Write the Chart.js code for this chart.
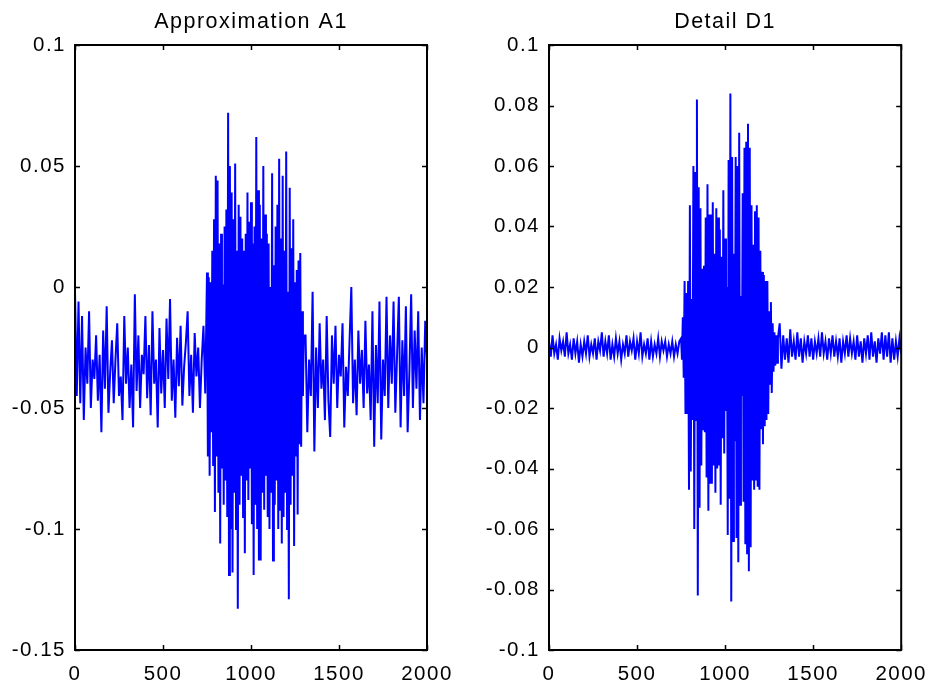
<!DOCTYPE html>
<html>
<head>
<meta charset="utf-8">
<script src="https://cdn.jsdelivr.net/npm/chart.js@4.4.1/dist/chart.umd.min.js"></script>
<style>
  html, body { margin: 0; padding: 0; background: #fff; }
  #wrap { position: relative; width: 936px; height: 686px; }
  canvas { position: absolute; top: 0; }
  #chart-a1 { left: 0; }
  #chart-d1 { left: 468px; }
</style>
</head>
<body>
<div id="wrap">
  <canvas id="chart-a1" width="468" height="686"></canvas>
  <canvas id="chart-d1" width="468" height="686"></canvas>
</div>
<script>
// sample positions: quiet parts every 10 samples, burst every 5 samples
const quietStep = 10;
const burstStart = 750;
const burstStep = 5;
const afterStart = 1310;

const xTicks = [0, 500, 1000, 1500, 2000];
const yTicksA1 = [-0.15, -0.1, -0.05, 0, 0.05, 0.1];
const yTicksD1 = [-0.1, -0.08, -0.06, -0.04, -0.02, 0, 0.02, 0.04, 0.06, 0.08, 0.1];

// Approximation A1
const a1Before = [
  -0.002, -0.045, -0.006, -0.048, -0.012, -0.055, -0.025, -0.04, -0.01, -0.05,
  -0.03, -0.038, -0.02, -0.047, -0.028, -0.06, -0.018, -0.042, -0.008, -0.052,
  -0.035, -0.022, -0.048, -0.03, -0.015, -0.045, -0.037, -0.055, -0.012, -0.04,
  -0.025, -0.05, -0.032, -0.058, -0.003, -0.043, -0.02, -0.05, -0.028, -0.036,
  -0.012, -0.046, -0.024, -0.053, -0.01, -0.04, -0.03, -0.058, -0.017, -0.044,
  -0.026, -0.05, -0.013, -0.038, -0.005, -0.047, -0.03, -0.054, -0.021, -0.041,
  -0.016, -0.049, -0.033, -0.023, -0.01, -0.045, -0.028, -0.052, -0.019, -0.037,
  -0.025, -0.05, -0.03, -0.016, -0.044
];
const a1Burst = [
  0.006, -0.07, 0.004, -0.078, 0.002, -0.06, 0.015, -0.074, 0.028, -0.093,
  0.046, -0.07, 0.044, -0.085, 0.018, -0.106, 0.022, -0.075, 0.001, -0.09,
  0.025, -0.08, 0.032, -0.095, 0.072, -0.119, 0.05, -0.1, 0.039, -0.118,
  0.028, -0.085, 0.051, -0.1, 0.015, -0.133, 0.034, -0.09, 0.029, -0.078,
  0.02, -0.095, 0.015, -0.11, 0.022, -0.08, 0.039, -0.088, 0.027, -0.075,
  0.035, -0.098, 0.018, -0.119, 0.025, -0.09, 0.062, -0.1, 0.04, -0.113,
  0.034, -0.113, 0.02, -0.085, 0.05, -0.092, 0.03, -0.078, 0.022, -0.095,
  0.018, -0.1, 0.0, -0.085, 0.047, -0.113, 0.009, -0.09, 0.025, -0.08,
  0.034, -0.1, 0.053, -0.092, 0.02, -0.106, 0.046, -0.095, 0.015, -0.085,
  0.056, -0.1, -0.002, -0.129, 0.041, -0.09, 0.016, -0.078, 0.028, -0.107,
  0.002, -0.07, 0.007, -0.094, 0.011, -0.065, 0.014, -0.066, -0.01, -0.045,
  -0.02
];
const a1After = [
  -0.02, -0.06, -0.03, -0.045, -0.002, -0.068, -0.025, -0.05, -0.015, -0.042,
  -0.03, -0.055, -0.012, -0.047, -0.062, -0.02, -0.04, -0.016, -0.05, -0.028,
  -0.037, -0.015, -0.058, -0.033, -0.045, -0.022, 0.0, -0.048, -0.03, -0.053,
  -0.018, -0.04, -0.026, -0.05, -0.014, -0.044, -0.032, -0.055, -0.01, -0.066,
  -0.024, -0.048, -0.006, -0.063, -0.03, -0.045, -0.004, -0.05, -0.02, -0.04,
  -0.006, -0.052, -0.028, -0.004, -0.058, -0.022, -0.045, -0.008, -0.06, -0.035,
  -0.003, -0.05, -0.018, -0.042, -0.01, -0.055, -0.025, -0.048, -0.014, -0.03
];

// Detail D1
const d1Before = [
  0.002, -0.003, 0.004, -0.002, 0.001, -0.004, 0.003, -0.001, 0.002, -0.003,
  0.005, -0.002, 0.001, -0.004, 0.003, -0.002, 0.002, -0.005, 0.001, -0.003,
  0.002, -0.002, 0.004, -0.003, 0.001, -0.002, 0.003, -0.004, 0.002, -0.001,
  0.005, -0.003, 0.002, -0.002, 0.004, -0.004, 0.001, -0.003, 0.003, -0.002,
  0.002, -0.004, 0.001, -0.002, 0.004, -0.003, 0.002, -0.001, 0.003, -0.004,
  0.002, -0.002, 0.005, -0.003, 0.001, -0.002, 0.003, -0.004, 0.002, -0.003,
  0.001, -0.002, 0.003, -0.003, 0.002, -0.001, 0.002, -0.003, 0.001, -0.002,
  0.002, -0.003, 0.001, -0.002, 0.002
];
const d1Burst = [
  0.003, -0.004, 0.01, -0.01, 0.022, -0.022, 0.018, -0.022, 0.022, -0.047,
  0.047, -0.041, 0.016, -0.024, 0.06, -0.06, 0.058, -0.024, 0.082, -0.082,
  0.053, -0.053, 0.046, -0.039, 0.026, -0.027, 0.027, -0.028, 0.043, -0.043,
  0.054, -0.054, 0.044, -0.045, 0.044, -0.045, 0.048, -0.039, 0.031, -0.048,
  0.046, -0.04, 0.043, -0.039, 0.039, -0.052, 0.03, -0.03, 0.052, -0.035,
  0.036, -0.021, 0.02, -0.062, 0.062, -0.05, 0.084, -0.084, 0.063, -0.064,
  0.031, -0.031, 0.063, -0.063, 0.06, -0.071, 0.071, -0.052, 0.017, -0.016,
  0.051, -0.051, 0.066, -0.065, 0.068, -0.068, 0.074, -0.074, 0.066, -0.066,
  0.047, -0.044, 0.034, -0.047, 0.045, -0.044, 0.047, -0.046, 0.043, -0.047,
  0.032, -0.027, 0.025, -0.032, 0.024, -0.026, 0.022, -0.024, 0.022, -0.022,
  0.012, -0.012, 0.015, -0.015, 0.008, -0.008, 0.005, -0.006, 0.004, -0.005,
  0.003
];
const d1After = [
  0.008, -0.007, 0.004, -0.004, 0.003, -0.005, 0.006, -0.003, 0.002, -0.004,
  0.005, -0.003, 0.003, -0.005, 0.002, -0.002, 0.004, -0.003, 0.003, -0.004,
  0.002, -0.002, 0.003, -0.003, 0.005, -0.002, 0.002, -0.004, 0.003, -0.002,
  0.004, -0.003, 0.002, -0.003, 0.003, -0.005, 0.002, -0.002, 0.004, -0.003,
  0.003, -0.002, 0.002, -0.004, 0.004, -0.003, 0.002, -0.005, 0.003, -0.002,
  0.004, -0.004, 0.005, -0.003, 0.002, -0.005, 0.003, -0.002, 0.005, -0.004,
  0.004, -0.003, 0.005, -0.005, 0.003, -0.004, 0.002, -0.003, 0.003, -0.002
];

function buildPoints(before, burst, after) {
  const pts = [];
  before.forEach((v, i) => pts.push({ x: i * quietStep, y: v }));
  burst.forEach((v, i) => pts.push({ x: burstStart + i * burstStep, y: v }));
  after.forEach((v, i) => pts.push({ x: afterStart + i * quietStep, y: v }));
  return pts;
}

const FONT = 'Arial, "Liberation Sans", Helvetica, sans-serif';

// the MATLAB text is a bit wider than Arial, so open up the letters a little
const spacingPlugin = {
  id: 'letterSpacing',
  beforeDraw(chart) {
    chart.ctx.letterSpacing = '1.5px';
  }
};

// MATLAB style box with inward ticks on all four sides, title centred over the axes
const boxPlugin = {
  id: 'matlabBox',
  afterDraw(chart, args, opts) {
    const { ctx, chartArea: a, scales } = chart;
    const tl = 5;
    ctx.save();
    ctx.strokeStyle = '#000';
    ctx.lineWidth = 1.5;
    scales.x.ticks.forEach(t => {
      const px = Math.round(scales.x.getPixelForValue(t.value)) + 0.5;
      ctx.beginPath();
      ctx.moveTo(px, a.bottom); ctx.lineTo(px, a.bottom - tl);
      ctx.moveTo(px, a.top); ctx.lineTo(px, a.top + tl);
      ctx.stroke();
    });
    scales.y.ticks.forEach(t => {
      const py = Math.round(scales.y.getPixelForValue(t.value)) + 0.5;
      ctx.beginPath();
      ctx.moveTo(a.left, py); ctx.lineTo(a.left + tl, py);
      ctx.moveTo(a.right, py); ctx.lineTo(a.right - tl, py);
      ctx.stroke();
    });
    ctx.lineWidth = 2;
    ctx.strokeRect(a.left, a.top, a.right - a.left, a.bottom - a.top);

    ctx.fillStyle = '#000';
    ctx.font = '21.5px ' + FONT;
    ctx.letterSpacing = '1.5px';
    ctx.textAlign = 'center';
    ctx.textBaseline = 'alphabetic';
    ctx.fillText(opts.text, (a.left + a.right) / 2, a.top - 17);
    ctx.restore();
  }
};

function makeChart(id, title, points, yTicks, plotLeft, padRight) {
  const ctx = document.getElementById(id).getContext('2d');
  return new Chart(ctx, {
    type: 'line',
    data: {
      datasets: [{
        data: points,
        borderColor: '#0000ff',
        borderWidth: 2,
        pointRadius: 0,
        tension: 0,
        fill: false
      }]
    },
    options: {
      responsive: false,
      animation: false,
      devicePixelRatio: 1,
      layout: { padding: { left: 0, right: padRight, top: 45, bottom: 0 } },
      plugins: {
        legend: { display: false },
        tooltip: { enabled: false },
        title: { display: false },
        matlabBox: { text: title }
      },
      scales: {
        x: {
          type: 'linear',
          min: 0,
          max: 2000,
          afterBuildTicks: s => { s.ticks = xTicks.map(v => ({ value: v })); },
          afterFit: s => { s.height = 36; },
          grid: { display: false, drawTicks: false },
          border: { display: false },
          ticks: {
            color: '#000',
            padding: 12,
            maxRotation: 0,
            font: { family: FONT, size: 20.5 },
            callback: v => String(v)
          }
        },
        y: {
          type: 'linear',
          min: yTicks[0],
          max: yTicks[yTicks.length - 1],
          afterBuildTicks: s => { s.ticks = yTicks.map(v => ({ value: v })); },
          afterFit: s => { s.width = plotLeft; },
          grid: { display: false, drawTicks: false },
          border: { display: false },
          ticks: {
            color: '#000',
            padding: 9,
            font: { family: FONT, size: 20.5 },
            callback: v => String(parseFloat(v.toFixed(4)))
          }
        }
      }
    },
    plugins: [spacingPlugin, boxPlugin]
  });
}

makeChart('chart-a1', 'Approximation A1', buildPoints(a1Before, a1Burst, a1After), yTicksA1, 75, 41);
makeChart('chart-d1', 'Detail D1', buildPoints(d1Before, d1Burst, d1After), yTicksD1, 81, 34);
</script>
</body>
</html>
